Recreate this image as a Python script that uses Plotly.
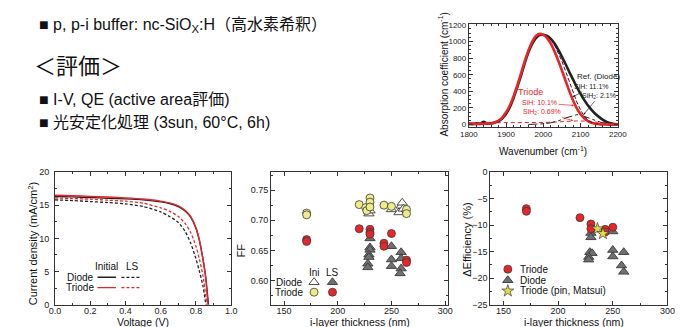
import plotly.graph_objects as go

W, H = 687, 327
FONT = "Liberation Sans, Arial, Noto Sans CJK JP, sans-serif"

# ---------------- data ----------------
# J-V curves
v_diode_ini = [0, 0.1, 0.2, 0.3, 0.4, 0.5, 0.6, 0.65, 0.7, 0.74, 0.77, 0.8, 0.82, 0.84, 0.855, 0.871]
j_diode_ini = [16.3, 16.25, 16.15, 16.05, 15.95, 15.8, 15.5, 15.25, 14.8, 14.1, 13.2, 11.5, 9.6, 6.8, 4.2, 0]
v_triode_ini = [0, 0.1, 0.2, 0.3, 0.4, 0.5, 0.6, 0.65, 0.7, 0.74, 0.77, 0.8, 0.82, 0.84, 0.855, 0.868]
j_triode_ini = [16.5, 16.42, 16.33, 16.23, 16.1, 15.93, 15.62, 15.35, 14.9, 14.2, 13.3, 11.6, 9.7, 6.8, 4.1, 0]
v_diode_ls = [0, 0.1, 0.2, 0.3, 0.4, 0.5, 0.6, 0.65, 0.7, 0.74, 0.77, 0.8, 0.82, 0.84, 0.856]
j_diode_ls = [15.8, 15.7, 15.55, 15.4, 15.2, 14.8, 14.0, 13.3, 12.4, 11.0, 9.3, 6.9, 5.0, 2.8, 0]
v_triode_ls = [0, 0.1, 0.2, 0.3, 0.4, 0.5, 0.6, 0.65, 0.7, 0.74, 0.77, 0.8, 0.82, 0.84, 0.862]
j_triode_ls = [16.1, 16.0, 15.9, 15.75, 15.6, 15.3, 14.6, 14.1, 13.3, 12.2, 10.9, 8.8, 6.8, 4.3, 0]

# FF vs i-layer thickness
ff_triode_ini_t = [171, 171, 220, 226, 227, 230, 230, 230, 243, 250, 264, 264]
ff_triode_ini = [0.712, 0.709, 0.726, 0.721, 0.716, 0.737, 0.730, 0.722, 0.725, 0.723, 0.718, 0.711]
ff_diode_ini_t = [229, 230, 250, 257, 259, 260, 261]
ff_diode_ini = [0.711, 0.716, 0.718, 0.713, 0.724, 0.729, 0.719]
ff_triode_ls_t = [171, 171, 220, 230, 230, 230, 243, 243, 250, 264, 264]
ff_triode_ls = [0.668, 0.665, 0.686, 0.685, 0.680, 0.677, 0.662, 0.657, 0.678, 0.634, 0.630]
ff_diode_ls_t = [230, 230, 230, 229, 229, 228, 228, 250, 250, 250, 259, 259, 259, 258]
ff_diode_ls = [0.670, 0.655, 0.651, 0.643, 0.639, 0.628, 0.622, 0.657, 0.635, 0.624, 0.647, 0.637, 0.620, 0.612]

# Delta efficiency vs i-layer thickness
de_triode_t = [171, 171, 220, 230, 230, 243, 243, 250]
de_triode = [-6.9, -7.4, -8.6, -9.8, -10.7, -10.8, -11.3, -10.4]
de_diode_t = [230, 230, 229, 231, 228, 228, 250, 250, 250, 260, 258, 260]
de_diode = [-11.5, -12.3, -15.1, -15.3, -16.0, -16.5, -11.2, -14.7, -15.9, -15.1, -17.6, -18.8]
de_matsui_t = [236, 241]
de_matsui = [-10.7, -11.6]

# IR absorption spectra (inset)
wavenumber = [1800, 1810, 1820, 1830, 1840, 1850, 1860, 1870, 1880, 1890, 1900, 1910, 1920, 1930,
              1940, 1950, 1960, 1970, 1980, 1990, 2000, 2010, 2020, 2030, 2040, 2050, 2060, 2070,
              2080, 2090, 2100, 2110, 2120, 2130, 2140, 2150, 2160, 2170, 2180, 2190, 2200]
abs_diode = [10, 5, 15, 8, 35, 12, 15, 25, 42, 75, 130, 210, 320, 450, 590, 740, 870, 970, 1040,
             1075, 1080, 1065, 1030, 975, 900, 815, 725, 630, 540, 450, 370, 295, 230, 175, 128,
             90, 58, 33, 16, 7, 3]
abs_triode = [5, 12, 3, 15, 8, 18, 10, 28, 50, 88, 148, 230, 340, 470, 615, 760, 890, 995, 1065,
              1090, 1078, 1040, 975, 880, 770, 650, 525, 400, 290, 195, 125, 75, 42, 22, 11, 5,
              2, 1, 0, 0, 0]
wn_comp = [2030, 2040, 2050, 2060, 2070, 2080, 2090, 2100, 2110, 2120, 2130, 2140, 2150, 2160]
sih_diode = [960, 870, 760, 640, 510, 385, 270, 175, 100, 52, 24, 10, 4, 1]
sih_triode = [870, 760, 640, 510, 385, 275, 180, 110, 62, 32, 15, 7, 3, 1]
wn_sih2 = [1960, 1980, 2000, 2020, 2040, 2060, 2080, 2090, 2100, 2120, 2140, 2160, 2180, 2200]
sih2_diode = [2, 5, 10, 22, 45, 80, 112, 120, 115, 82, 44, 18, 6, 2]
wn_sih2_t = [1800, 1850, 1900, 1950, 2000, 2040, 2070, 2090, 2110, 2130, 2150, 2180, 2200]
sih2_triode = [22, 22, 22, 23, 26, 33, 42, 45, 42, 33, 24, 16, 14]

# ---------------- colours ----------------
BLACK = "#222222"
RED = "#e8262a"
YELLOW = "#eeec8a"
GRAY = "#707070"
EDGE = "#3a3a3a"
STAR = "#e2dc4a"


def px_x(p):
    return p / W


def px_y(p):
    return 1 - p / H


fig = go.Figure()

# ---- J-V chart ----
dash = "3px,2px"
fig.add_trace(go.Scatter(x=v_diode_ini, y=j_diode_ini, mode="lines", line=dict(color=BLACK, width=1.4, shape="spline", smoothing=0.6), xaxis="x", yaxis="y"))
fig.add_trace(go.Scatter(x=v_triode_ini, y=j_triode_ini, mode="lines", line=dict(color=RED, width=1.4, shape="spline", smoothing=0.6), xaxis="x", yaxis="y"))
fig.add_trace(go.Scatter(x=v_diode_ls, y=j_diode_ls, mode="lines", line=dict(color=BLACK, width=1.3, dash=dash, shape="spline", smoothing=0.6), xaxis="x", yaxis="y"))
fig.add_trace(go.Scatter(x=v_triode_ls, y=j_triode_ls, mode="lines", line=dict(color=RED, width=1.3, dash=dash, shape="spline", smoothing=0.6), xaxis="x", yaxis="y"))

# ---- FF chart ----
circ = lambda c: dict(symbol="circle", size=8, color=c, line=dict(color=EDGE, width=0.8))
tri = lambda c: dict(symbol="triangle-up", size=9, color=c, line=dict(color=EDGE, width=0.9))
fig.add_trace(go.Scatter(x=ff_diode_ini_t, y=ff_diode_ini, mode="markers", marker=tri("white"), xaxis="x2", yaxis="y2"))
fig.add_trace(go.Scatter(x=ff_triode_ini_t, y=ff_triode_ini, mode="markers", marker=circ(YELLOW), xaxis="x2", yaxis="y2"))
fig.add_trace(go.Scatter(x=ff_diode_ls_t, y=ff_diode_ls, mode="markers", marker=tri(GRAY), xaxis="x2", yaxis="y2"))
fig.add_trace(go.Scatter(x=ff_triode_ls_t, y=ff_triode_ls, mode="markers", marker=circ(RED), xaxis="x2", yaxis="y2"))

# ---- delta efficiency chart ----
fig.add_trace(go.Scatter(x=de_diode_t, y=de_diode, mode="markers", marker=tri(GRAY), xaxis="x3", yaxis="y3"))
fig.add_trace(go.Scatter(x=de_triode_t, y=de_triode, mode="markers", marker=circ(RED), xaxis="x3", yaxis="y3"))
fig.add_trace(go.Scatter(x=de_matsui_t, y=de_matsui, mode="markers", marker=dict(symbol="star", size=9, color=STAR, line=dict(color=EDGE, width=0.7)), xaxis="x3", yaxis="y3"))

# ---- inset IR ----
fig.add_trace(go.Scatter(x=wn_sih2_t, y=sih2_triode, mode="lines", line=dict(color=RED, width=1, dash="4px,3px"), xaxis="x4", yaxis="y4"))
fig.add_trace(go.Scatter(x=wn_sih2, y=sih2_diode, mode="lines", line=dict(color=BLACK, width=1, dash="dashdot"), xaxis="x4", yaxis="y4"))
fig.add_trace(go.Scatter(x=wavenumber, y=abs_diode, mode="lines", line=dict(color=BLACK, width=2.6, shape="spline", smoothing=0.5), xaxis="x4", yaxis="y4"))
fig.add_trace(go.Scatter(x=wavenumber, y=abs_triode, mode="lines", line=dict(color=RED, width=2.6, shape="spline", smoothing=0.5), xaxis="x4", yaxis="y4"))
fig.add_trace(go.Scatter(x=wn_comp, y=sih_diode, mode="lines", line=dict(color=BLACK, width=1, dash="4px,2px"), xaxis="x4", yaxis="y4"))
fig.add_trace(go.Scatter(x=wn_comp, y=sih_triode, mode="lines", line=dict(color=RED, width=1, dash="4px,2px"), xaxis="x4", yaxis="y4"))

# ---- legend keys (overlay axes with 0..1 ranges) ----
LEG1_SOLID = [0.241, 0.346]
LEG1_DASH = [0.377, 0.485]
LEG1_ROWS = [0.207, 0.129]
fig.add_trace(go.Scatter(x=LEG1_SOLID, y=[LEG1_ROWS[0]] * 2, mode="lines", line=dict(color=BLACK, width=1.4), xaxis="x5", yaxis="y5"))
fig.add_trace(go.Scatter(x=LEG1_DASH, y=[LEG1_ROWS[0]] * 2, mode="lines", line=dict(color=BLACK, width=1.3, dash=dash), xaxis="x5", yaxis="y5"))
fig.add_trace(go.Scatter(x=LEG1_SOLID, y=[LEG1_ROWS[1]] * 2, mode="lines", line=dict(color=RED, width=1.4), xaxis="x5", yaxis="y5"))
fig.add_trace(go.Scatter(x=LEG1_DASH, y=[LEG1_ROWS[1]] * 2, mode="lines", line=dict(color=RED, width=1.3, dash=dash), xaxis="x5", yaxis="y5"))

LEG2_COLS = [0.242, 0.346]
LEG2_ROWS = [0.170, 0.095]
fig.add_trace(go.Scatter(x=[LEG2_COLS[0]], y=[LEG2_ROWS[0]], mode="markers", marker=tri("white"), xaxis="x6", yaxis="y6"))
fig.add_trace(go.Scatter(x=[LEG2_COLS[1]], y=[LEG2_ROWS[0]], mode="markers", marker=tri(GRAY), xaxis="x6", yaxis="y6"))
fig.add_trace(go.Scatter(x=[LEG2_COLS[0]], y=[LEG2_ROWS[1]], mode="markers", marker=circ(YELLOW), xaxis="x6", yaxis="y6"))
fig.add_trace(go.Scatter(x=[LEG2_COLS[1]], y=[LEG2_ROWS[1]], mode="markers", marker=circ(RED), xaxis="x6", yaxis="y6"))

LEG3_X = 0.099
LEG3_ROWS = [0.268, 0.185, 0.104]
fig.add_trace(go.Scatter(x=[LEG3_X], y=[LEG3_ROWS[0]], mode="markers", marker=circ(RED), xaxis="x7", yaxis="y7"))
fig.add_trace(go.Scatter(x=[LEG3_X], y=[LEG3_ROWS[1]], mode="markers", marker=tri(GRAY), xaxis="x7", yaxis="y7"))
fig.add_trace(go.Scatter(x=[LEG3_X], y=[LEG3_ROWS[2]], mode="markers", marker=dict(symbol="star", size=9, color=STAR, line=dict(color=EDGE, width=0.7)), xaxis="x7", yaxis="y7"))


# ---------------- axes ----------------
def axis(domain, rng, dtick, minor, fmt=None, tick0=None, size=9, anchor=None, standoff=0):
    d = dict(domain=domain, range=rng, dtick=dtick, showline=True, linecolor="#333", linewidth=1,
             mirror="ticks", ticks="inside", ticklen=4, tickwidth=1, tickcolor="#333",
             showgrid=False, zeroline=False, tickfont=dict(size=size, color="#222", family=FONT),
             minor=dict(dtick=minor, ticks="inside", ticklen=2, tickcolor="#333", showgrid=False),
             anchor=anchor, ticklabelstandoff=standoff)
    if fmt:
        d["tickformat"] = fmt
    if tick0 is not None:
        d["tick0"] = tick0
        d["minor"]["tick0"] = tick0
    return d


YD = [px_y(301), px_y(164)]
X1D = [px_x(39), px_x(220)]
X2D = [px_x(261), px_x(443)]
X3D = [px_x(486), px_x(668)]
X4D = [px_x(464), px_x(617)]
Y4D = [px_y(117.3), px_y(11.7)]

hidden = dict(range=[0, 1], visible=False, showgrid=False, zeroline=False, fixedrange=True,
              showticklabels=False, ticks="")

fig.update_layout(
    xaxis=axis(X1D, [0, 1], 0.2, 0.1, fmt=".1f", anchor="y", standoff=-3),
    yaxis=axis(YD, [0, 20], 5, 2.5, anchor="x", standoff=3),
    xaxis2=axis(X2D, [138, 303], 50, 25, tick0=150, anchor="y2", standoff=-3),
    yaxis2=axis(YD, [0.56, 0.78], 0.05, 0.025, fmt=".2f", tick0=0.6, anchor="x2"),
    xaxis3=axis(X3D, [138, 300], 50, 25, tick0=150, anchor="y3", standoff=-3),
    yaxis3=axis(YD, [-25, 0], 5, 2.5, anchor="x3"),
    xaxis4=axis(X4D, [1800, 2200], 100, 20, size=8, anchor="y4"),
    yaxis4=axis(Y4D, [-25, 1205], 200, 50, size=8, anchor="x4"),
    xaxis5=dict(hidden, overlaying="x", anchor="y5"),
    yaxis5=dict(hidden, overlaying="y", anchor="x5"),
    xaxis6=dict(hidden, overlaying="x2", anchor="y6"),
    yaxis6=dict(hidden, overlaying="y2", anchor="x6"),
    xaxis7=dict(hidden, overlaying="x3", anchor="y7"),
    yaxis7=dict(hidden, overlaying="y3", anchor="x7"),
)

# ---------------- annotations ----------------
ann = []


def text(x, y, s, size=12, color="#111", xanchor="center", angle=0, ref="paper", yanchor="middle"):
    a = dict(x=x, y=y, text=s, showarrow=False, font=dict(size=size, color=color, family=FONT),
             xanchor=xanchor, yanchor=yanchor, textangle=angle, borderpad=0)
    if ref == "paper":
        a.update(xref="paper", yref="paper")
    else:
        a.update(xref=ref[0], yref=ref[1])
    ann.append(a)


# slide text
text(px_x(22), px_y(13), "■ p, p-i buffer: nc-SiO<sub>X</sub>:H（高水素希釈）", size=16, xanchor="left")
text(px_x(16), px_y(55), "＜評価＞", size=22, xanchor="left")
text(px_x(22), px_y(89), "■ I-V, QE (active area評価)", size=16, xanchor="left")
text(px_x(22), px_y(113), "■ 光安定化処理 (3sun, 60°C, 6h)", size=16, xanchor="left")

# axis titles
text(px_x(16), px_y(238), "Current density (mA/cm<sup>2</sup>)", size=11, angle=-90)
text(px_x(129.5), px_y(325.5), "Voltage (V)", size=10.5, yanchor="bottom")
text(px_x(230), px_y(245), "FF", size=11, angle=-90)
text(px_x(352), px_y(325.5), "i-layer thickness (nm)", size=10.5, yanchor="bottom")
text(px_x(462), px_y(234), "ΔEfficiency (%)", size=11, angle=-90)
text(px_x(572), px_y(325.5), "i-layer thickness (nm)", size=10.5, yanchor="bottom")
text(px_x(438), px_y(64), "Absorption coefficient (cm<sup>-1</sup>)", size=10, angle=-90)
text(px_x(540), px_y(142), "Wavenumber (cm<sup>-1</sup>)", size=10)

# J-V legend
dref1 = ("x domain", "y domain")
text(0.291, 0.292, "Initial", size=10, ref=dref1)
text(0.438, 0.292, "LS", size=10, ref=dref1)
text(0.225, LEG1_ROWS[0], "Diode", size=10, xanchor="right", ref=dref1)
text(0.225, LEG1_ROWS[1], "Triode", size=10, xanchor="right", ref=dref1)

# FF legend
dref2 = ("x2 domain", "y2 domain")
text(LEG2_COLS[0], 0.243, "Ini", size=10, ref=dref2)
text(LEG2_COLS[1], 0.243, "LS", size=10, ref=dref2)
text(0.185, LEG2_ROWS[0], "Diode", size=10, xanchor="right", ref=dref2)
text(0.185, LEG2_ROWS[1], "Triode", size=10, xanchor="right", ref=dref2)

# delta efficiency legend
dref3 = ("x3 domain", "y3 domain")
text(0.160, LEG3_ROWS[0], "Triode", size=10, xanchor="left", ref=dref3)
text(0.160, LEG3_ROWS[1], "Diode", size=10, xanchor="left", ref=dref3)
text(0.160, LEG3_ROWS[2], "Triode (pin, Matsui)", size=10, xanchor="left", ref=dref3)

# inset labels
iref = ("x4", "y4")
text(2148, 576, "Ref. (Diode)", size=8, color=BLACK, ref=iref)
text(1966, 397, "Triode", size=9, color=RED, ref=iref)


def arrow(tx, ty, hx, hy, s, color):
    ann.append(dict(x=hx, y=hy, ax=tx, ay=ty, xref="x4", yref="y4", axref="x4", ayref="y4",
                    text=s, showarrow=True, arrowhead=2, arrowsize=0.6, arrowwidth=0.7,
                    arrowcolor=color, font=dict(size=7, color=color, family=FONT)))


arrow(2129, 455, 2078, 330, "SiH: 11.1%", BLACK)
arrow(2150, 347, 2108, 120, "SiH<sub>2</sub>: 2.1%", BLACK)
arrow(1990, 261, 2082, 230, "SiH: 10.1%", RED)
arrow(1997, 152, 2080, 48, "SiH<sub>2</sub>: 0.69%", RED)

fig.update_layout(
    annotations=ann,
    width=W, height=H,
    margin=dict(l=0, r=0, t=0, b=0),
    paper_bgcolor="white", plot_bgcolor="rgba(0,0,0,0)",
    showlegend=False,
    font=dict(family=FONT, color="#111"),
)

fig.write_html("out.html")
